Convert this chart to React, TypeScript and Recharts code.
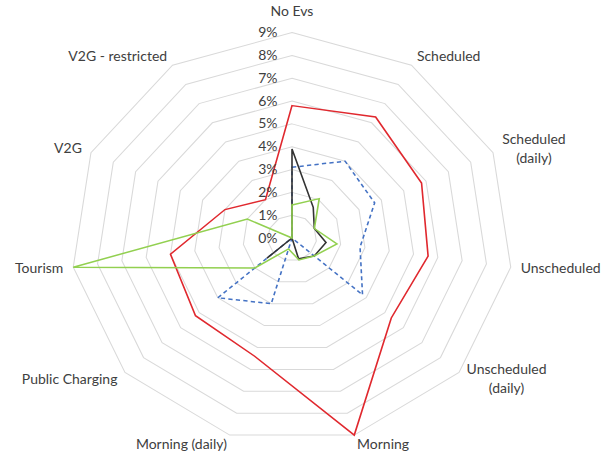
import React from 'react';
import { RadarChart, PolarGrid, PolarAngleAxis, PolarRadiusAxis, Radar } from 'recharts';

// Categories (clockwise from top)
const categories = [
  'No Evs',
  'Scheduled',
  'Scheduled (daily)',
  'Unscheduled',
  'Unscheduled (daily)',
  'Morning',
  'Morning (daily)',
  'Public Charging',
  'Tourism',
  'V2G',
  'V2G - restricted',
];
// labels that Excel wrapped onto two lines
const wrappedCategories = ['Scheduled (daily)', 'Unscheduled (daily)'];

// Series values in percent (null = no point)
const redSeries: (number | null)[] = [5.8, 6.3, 5.8, 5.6, 5.35, 9.0, 5.4, 5.2, 5.0, 3.0, 2.0];
const blueSeries: (number | null)[] = [3.1, 4.0, 3.7, 2.8, 3.8, null, 3.0, 4.0, null, null, null];
const blackSeries: (number | null)[] = [3.9, 1.6, 1.0, 1.4, 1.2, 0.95, 0, 1.35, 0, 0, 0];
const greenSeries: (number | null)[] = [1.45, 2.05, 1.0, 1.85, 1.2, 1.0, 0.5, 2.0, 9.0, 2.0, 0];

const radiusTicks = [0, 1, 2, 3, 4, 5, 6, 7, 8, 9];

const data = categories.map((c, i) => ({
  category: c,
  red: redSeries[i],
  blue: blueSeries[i],
  black: blackSeries[i],
  green: greenSeries[i],
}));

const W = 614;
const H = 456;
const CX = 292;
const CY = 238;
const R = 205.4;
const SX = 221 / 205.4;
const FONT = 'Lato, "Open Sans", sans-serif';
const FS = 13;
const TEXT = '#404040';

let measureCtx: CanvasRenderingContext2D | null = null;
function textWidth(s: string): number {
  if (!measureCtx && typeof document !== 'undefined') {
    measureCtx = document.createElement('canvas').getContext('2d');
  }
  if (!measureCtx) return s.length * FS * 0.5;
  measureCtx.font = `${FS}px Lato`;
  return measureCtx.measureText(s).width;
}

function AngleTick(props: any) {
  const { x, y, payload } = props;
  const dx = x - CX;
  const dy = y - CY;
  const d = Math.hypot(dx, dy) || 1;
  const ux = dx / d;
  const uy = dy / d;
  const vx = CX + ux * R;
  const vy = CY + uy * R;
  const label = String(payload.value);
  let lines = [label];
  if (wrappedCategories.includes(label)) {
    const k = label.indexOf(' (');
    lines = [label.slice(0, k), label.slice(k + 1)];
  }
  const lh = 19;
  const middle = Math.abs(ux) < 0.05;
  const ax = middle ? vx : vx + ux * 9.3;
  const ay = middle ? vy + uy * 21 : vy + uy * 10;
  const blockW = Math.max(...lines.map(textWidth));
  const centerX = middle ? ax : ux > 0 ? ax + blockW / 2 : ax - blockW / 2;
  return (
    <g>
      {lines.map((ln, i) => (
        <text
          key={i}
          x={centerX}
          y={ay + (i - (lines.length - 1) / 2) * lh}
          dy="0.35em"
          textAnchor="middle"
          fontFamily={FONT}
          fontSize={FS}
          fill={TEXT}
        >
          {ln}
        </text>
      ))}
    </g>
  );
}

function RadiusTick(props: any) {
  const { x, y, payload } = props;
  return (
    <text
      x={x - 13.5}
      y={y}
      dy="0.35em"
      textAnchor="end"
      fontFamily={FONT}
      fontSize={FS}
      fill={TEXT}
    >
      {`${payload.value}%`}
    </text>
  );
}

export default function App() {
  return (
    <div
      style={{
        position: 'absolute',
        left: 0,
        top: 0,
        width: W,
        height: H,
        background: '#fff',
        overflow: 'visible',
      }}
    >
      <div
        style={{
          width: W,
          height: H,
          transform: `scaleX(${SX})`,
          transformOrigin: `${CX}px ${CY}px`,
        }}
      >
        <RadarChart
          width={W}
          height={H}
          data={data}
          cx={CX}
          cy={CY}
          outerRadius={R}
          innerRadius={0}
          margin={{ top: 0, right: 0, bottom: 0, left: 0 }}
        >
          <PolarGrid gridType="polygon" radialLines={false} stroke="#d9d9d9" strokeWidth={1} />
          <PolarAngleAxis
            dataKey="category"
            tick={<AngleTick />}
            tickLine={false}
            axisLine={false}
          />
          <PolarRadiusAxis
            angle={90}
            domain={[0, 9]}
            tickCount={radiusTicks.length}
            ticks={radiusTicks as any}
            tick={<RadiusTick />}
            axisLine={false}
            tickLine={false}
            orientation="left"
          />
          <Radar
            dataKey="red"
            stroke="#e0282e"
            strokeWidth={1.5}
            fill="none"
            fillOpacity={0}
            dot={false}
            isAnimationActive={false}
          />
          <Radar
            dataKey="blue"
            stroke="#4472c4"
            strokeWidth={1.5}
            strokeDasharray="4 3"
            fill="none"
            fillOpacity={0}
            dot={false}
            connectNulls
            isAnimationActive={false}
          />
          <Radar
            dataKey="black"
            stroke="#333333"
            strokeWidth={1.5}
            fill="none"
            fillOpacity={0}
            dot={false}
            isAnimationActive={false}
          />
          <Radar
            dataKey="green"
            stroke="#92d050"
            strokeWidth={1.5}
            fill="none"
            fillOpacity={0}
            dot={false}
            isAnimationActive={false}
          />
        </RadarChart>
      </div>
    </div>
  );
}
